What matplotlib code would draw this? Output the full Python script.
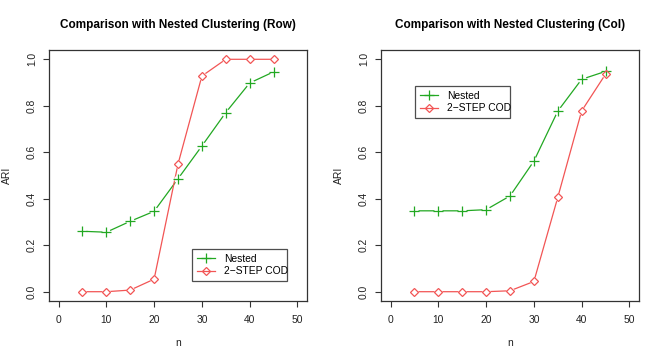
import matplotlib
matplotlib.use("Agg")
import matplotlib.pyplot as plt
from matplotlib.lines import Line2D

plt.rcParams['font.family'] = ['Liberation Sans', 'DejaVu Sans']

n = [5, 10, 15, 20, 25, 30, 35, 40, 45]
row_nested = [0.260, 0.256, 0.303, 0.346, 0.486, 0.627, 0.771, 0.898, 0.946]
row_cod = [0.0, 0.0, 0.007, 0.054, 0.549, 0.928, 1.0, 1.0, 1.0]
col_nested = [0.348, 0.348, 0.348, 0.353, 0.412, 0.562, 0.777, 0.914, 0.948]
col_cod = [0.0, 0.0, 0.0, 0.0, 0.004, 0.044, 0.406, 0.778, 0.936]
titles = ["Comparison with Nested Clustering (Row)", "Comparison with Nested Clustering (Col)"]
series_labels = ["Nested", "2\u2212STEP COD"]
xlabel = "n"
ylabel = "ARI"
xticks = [0, 10, 20, 30, 40, 50]
yticks = [0.0, 0.2, 0.4, 0.6, 0.8, 1.0]

GREEN = "#22a822"
RED = "#f25555"
TXT = "#222222"
FS = 7.4

W, H = 664, 363
fig = plt.figure(figsize=(W / 100, H / 100), dpi=100)

def ax_rect(x0, x1, y0, y1):
    return [x0 / W, 1 - y1 / H, (x1 - x0) / W, (y1 - y0) / H]

panels = [
    (49, 307, row_nested, row_cod, (192, 246, 287, 281)),
    (381, 639, col_nested, col_cod, (415, 83, 510, 118)),
]

for i, (px0, px1, nested, cod, leg) in enumerate(panels):
    ax = fig.add_axes(ax_rect(px0, px1, 50, 301))
    ax.set_xlim(-2, 52)
    ax.set_ylim(-0.04, 1.04)
    for ys, col, mk in [(nested, GREEN, '+'), (cod, RED, 'D')]:
        ax.plot(n, ys, color=col, lw=0.9, zorder=2)
        ax.plot(n, ys, linestyle='none', marker='o', ms=6, mfc='white',
                mec='none', zorder=3)
        if mk == '+':
            ax.plot(n, ys, linestyle='none', marker='+', ms=6.5, mew=0.9,
                    color=col, zorder=4)
        else:
            ax.plot(n, ys, linestyle='none', marker='D', ms=4.3, mew=0.9,
                    mfc='none', mec=col, zorder=4)
    ax.set_xticks(xticks)
    ax.set_xticklabels([str(t) for t in xticks])
    ax.set_yticks(yticks)
    ax.set_yticklabels([f"{t:.1f}" for t in yticks], rotation=90, va='center')
    ax.tick_params(direction='out', length=4.3, width=0.8, labelsize=FS,
                   color='#333333', labelcolor=TXT)
    ax.tick_params(axis='x', pad=6)
    ax.tick_params(axis='y', pad=4.5)
    for s in ax.spines.values():
        s.set_linewidth(0.9)
        s.set_color('#333333')
    cx = (px0 + 10 + px1 - 10) / 2
    fig.text(cx / W, 1 - 343 / H, xlabel, fontsize=FS, color=TXT,
             ha='center', va='center')
    fig.text((px0 - 42) / W, 1 - 175 / H, ylabel, fontsize=FS, color=TXT,
             ha='center', va='center', rotation=90)
    fig.text(cx / W, 1 - 25 / H, titles[i], fontsize=8.5, fontweight='bold',
             ha='center', va='center')

    lx0, ly0, lx1, ly1 = leg
    handles = [
        Line2D([], [], color=GREEN, lw=0.9, marker='+', ms=6.5, mew=0.9),
        Line2D([], [], color=RED, lw=0.9, marker='D', ms=4.3, mew=0.9, mfc='none'),
    ]
    lg = ax.legend(handles, series_labels, loc='lower left',
                   bbox_to_anchor=(lx0 / W, 1 - ly1 / H, (lx1 - lx0) / W, (ly1 - ly0) / H),
                   bbox_transform=fig.transFigure, mode='expand',
                   fontsize=FS, frameon=True, fancybox=False, borderaxespad=0,
                   handlelength=1.8, handletextpad=0.9, borderpad=0.45,
                   labelspacing=0.25)
    lg.get_frame().set_edgecolor(TXT)
    lg.get_frame().set_linewidth(0.9)

fig.savefig('out.png', dpi=100)
